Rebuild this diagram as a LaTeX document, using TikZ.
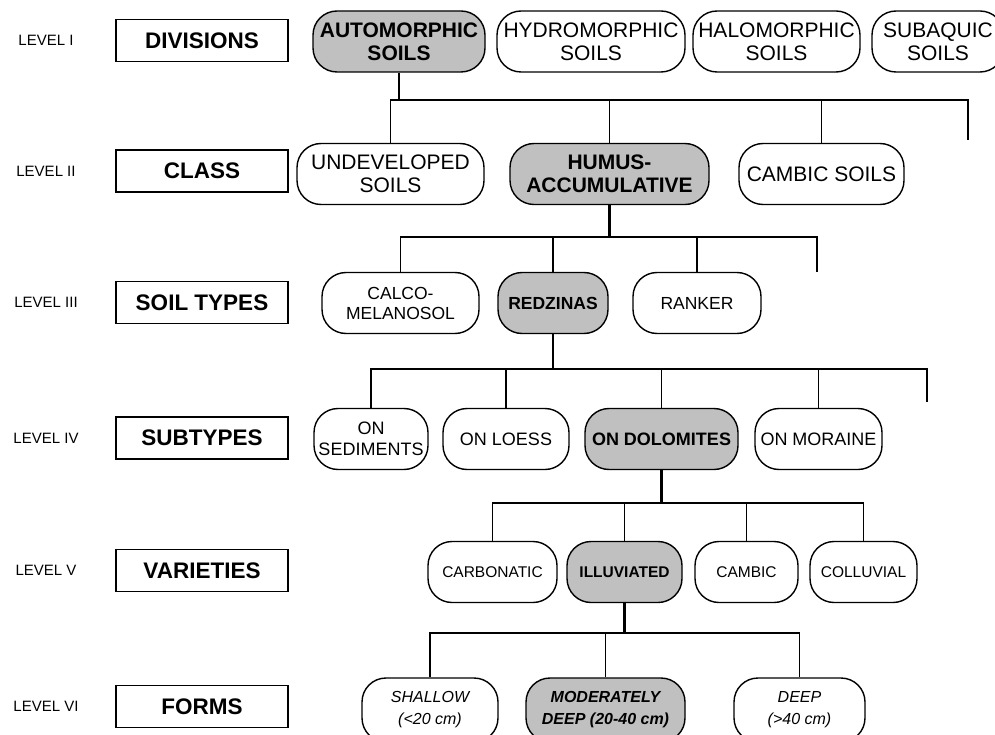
\documentclass[tikz,border=0pt]{standalone}
\usepackage{fontspec}
\setmainfont{Liberation Sans}
\usepackage{tikz}
\usetikzlibrary{positioning}
\usepackage{xcolor}
\definecolor{shade}{HTML}{C0C0C0}

\begin{document}
\begin{tikzpicture}[
  x=1pt, y=-1pt,
  every node/.style={inner sep=0pt, align=center},
  lvl/.style={font=\fontsize{15}{17}\selectfont},
  levelbox/.style={draw, line width=1.5pt, minimum width=172pt, minimum height=42pt,
    font=\fontsize{22.5}{25}\selectfont\bfseries},
  soil/.style={draw, line width=1.4pt, rounded corners=24pt, minimum height=61pt, fill=white},
  chosen/.style={soil, fill=shade},
  link/.style={line width=1.3pt},
  trunk/.style={line width=2.2pt}
]
  \useasboundingbox (0,0) rectangle (995,735);
  \def\fI{\fontsize{21}{23}\selectfont}
  \def\fIII{\fontsize{17.5}{20}\selectfont}
  \def\fIV{\fontsize{18}{21}\selectfont}
  \def\fV{\fontsize{15.5}{18}\selectfont}
  \def\fVI{\fontsize{16}{22}\selectfont}

  % level names and ranks on the left
  \foreach \nm/\yy/\lv/\ttl in {1/40.5/I/DIVISIONS, 2/171/II/CLASS, 3/302.5/III/SOIL TYPES,
      4/438/IV/SUBTYPES, 5/570.5/V/VARIETIES, 6/706.5/VI/FORMS} {
    \node[lvl] (lev\nm) at (46,\yy) {LEVEL \lv};
    \node[levelbox] (rank\nm) at (202,\yy) {\ttl};
  }

  % Level I
  \node[chosen, minimum width=172pt, font=\fI\bfseries] (auto) at (399,41.5) {AUTOMORPHIC\\SOILS};
  \node[soil, minimum width=188pt, font=\fI] (hydro) at (591,41.5) {HYDROMORPHIC\\SOILS};
  \node[soil, minimum width=167pt, font=\fI] (halo) at (776.5,41.5) {HALOMORPHIC\\SOILS};
  \node[soil, minimum width=132pt, font=\fI] (subaq) at (938,41.5) {SUBAQUIC\\SOILS};

  % Level II
  \node[soil, minimum width=187pt, font=\fI] (undev) at (390.5,174) {UNDEVELOPED\\SOILS};
  \node[chosen, minimum width=199pt, font=\fI\bfseries] (humus) at (609.5,174) {HUMUS-\\ACCUMULATIVE};
  \node[soil, minimum width=165pt, font=\fI] (cambs) at (821.5,174) {CAMBIC SOILS};

  % Level III
  \node[soil, minimum width=157pt, font=\fIII] (calco) at (400.5,303) {CALCO-\\MELANOSOL};
  \node[chosen, minimum width=110pt, font=\fIII\bfseries] (redz) at (553,303) {REDZINAS};
  \node[soil, minimum width=128pt, font=\fIII] (ranker) at (697,303) {RANKER};

  % Level IV
  \node[soil, minimum width=114pt, font=\fIV] (sed) at (371,439) {ON\\SEDIMENTS};
  \node[soil, minimum width=126pt, font=\fIV] (loess) at (506,439) {ON LOESS};
  \node[chosen, minimum width=153pt, font=\fIV\bfseries] (dolo) at (661.5,439) {ON DOLOMITES};
  \node[soil, minimum width=127pt, font=\fIV] (moraine) at (818.5,439) {ON MORAINE};

  % Level V
  \node[soil, minimum width=129pt, font=\fV] (carb) at (492.5,572) {CARBONATIC};
  \node[chosen, minimum width=115pt, font=\fV\bfseries] (illuv) at (624.5,572) {ILLUVIATED};
  \node[soil, minimum width=103pt, font=\fV] (cambic) at (746.5,572) {CAMBIC};
  \node[soil, minimum width=107pt, font=\fV] (colluv) at (863.5,572) {COLLUVIAL};

  % Level VI
  \node[soil, minimum width=136pt, minimum height=64pt, font=\fVI\itshape] (shallow) at (430,710) {SHALLOW\\(<20 cm)};
  \node[chosen, minimum width=159pt, minimum height=64pt, font=\fVI\bfseries\itshape] (moder) at (605.5,710) {MODERATELY\\DEEP (20-40 cm)};
  \node[soil, minimum width=131pt, minimum height=64pt, font=\fVI\itshape] (deep) at (799.5,710) {DEEP\\(>40 cm)};

  % bus lines and loose ends
  \coordinate (busI) at (0,100);
  \coordinate (busII) at (0,237);
  \coordinate (busIII) at (0,369);
  \coordinate (busIV) at (0,503);
  \coordinate (busV) at (0,633);
  \coordinate (tailI) at (968,140);
  \coordinate (tailII) at (817,272);
  \coordinate (tailIII) at (927,402);

  \draw[trunk] (auto.south) -- (auto.south |- busI);
  \draw[link] (undev.north) |- (tailI |- busI) -- (tailI);
  \foreach \n in {humus, cambs} \draw[link] (\n.north) -- (\n.north |- busI);

  \draw[trunk] (humus.south) -- (humus.south |- busII);
  \draw[link] (calco.north) |- (tailII |- busII) -- (tailII);
  \foreach \n in {redz, ranker} \draw[link] (\n.north) -- (\n.north |- busII);

  \draw[trunk] (redz.south) -- (redz.south |- busIII);
  \draw[link] (sed.north) |- (tailIII |- busIII) -- (tailIII);
  \foreach \n in {loess, dolo, moraine} \draw[link] (\n.north) -- (\n.north |- busIII);

  \draw[trunk] (dolo.south) -- (dolo.south |- busIV);
  \draw[link] (carb.north) |- (colluv.north |- busIV) -- (colluv.north);
  \foreach \n in {illuv, cambic} \draw[link] (\n.north) -- (\n.north |- busIV);

  \draw[trunk] (illuv.south) -- (illuv.south |- busV);
  \draw[link] (shallow.north) |- (deep.north |- busV) -- (deep.north);
  \draw[link] (moder.north) -- (moder.north |- busV);
\end{tikzpicture}
\end{document}
